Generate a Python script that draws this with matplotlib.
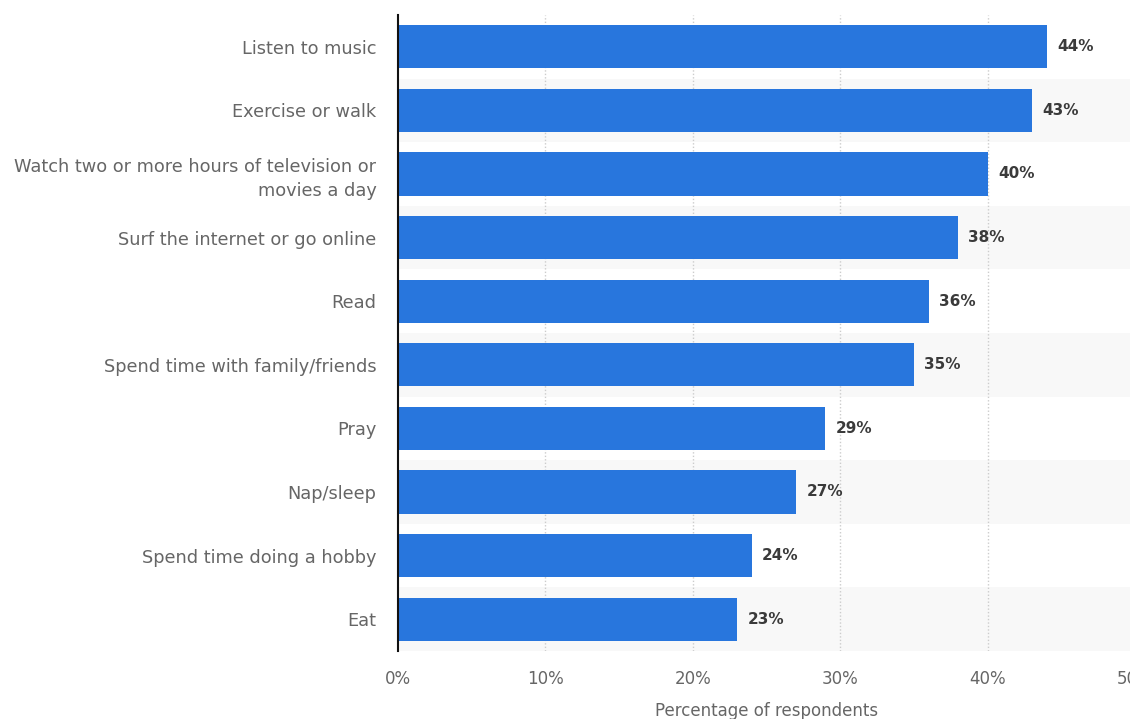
import numpy as np
import matplotlib
matplotlib.use("Agg")
import matplotlib.pyplot as plt

activities = ["Listen to music", "Exercise or walk",
              "Watch two or more hours of television or\nmovies a day",
              "Surf the internet or go online", "Read",
              "Spend time with family/friends", "Pray", "Nap/sleep",
              "Spend time doing a hobby", "Eat"]
shares = [44, 43, 40, 38, 36, 35, 29, 27, 24, 23]
xticks = [0, 10, 20, 30, 40, 50]

fig = plt.figure(figsize=(11.3, 7.19), dpi=100)
ax = fig.add_axes([398 / 1130, 1 - 651 / 719, 737 / 1130, 636 / 719])

y = np.arange(len(activities))
# alternating row stripes
for i in y:
    if i % 2 == 1:
        ax.axhspan(i - 0.5, i + 0.5, color="#f8f8f8", zorder=0, lw=0)

ax.barh(y, shares, height=0.68, color="#2876dd", zorder=2)
for yi, v in zip(y, shares):
    ax.text(v + 0.7, yi, f"{v}%", va="center", ha="left", fontsize=11,
            fontweight="bold", color="#3a3a3a")

ax.set_xlim(0, 50)
ax.set_ylim(len(activities) - 0.5, -0.5)
ax.set_yticks(y)
ax.set_yticklabels(activities, fontsize=12.8, color="#666666", linespacing=1.45)
ax.set_xticks(xticks)
ax.set_xticklabels([f"{t}%" for t in xticks], fontsize=12, color="#666666")
ax.tick_params(length=0, axis="both")
ax.tick_params(axis="x", pad=14)
ax.tick_params(axis="y", pad=15.5)
ax.set_xlabel("Percentage of respondents", fontsize=12, color="#666666",
              labelpad=10)

for t in xticks[1:]:
    ax.axvline(t, color="#cccccc", ls=(0, (1, 1.5)), lw=1, zorder=1)

for s in ["top", "right", "bottom"]:
    ax.spines[s].set_visible(False)
ax.spines["left"].set_color("#111111")
ax.spines["left"].set_linewidth(1.5)
ax.spines["left"].set_zorder(3)

fig.savefig("out.png", dpi=100)
